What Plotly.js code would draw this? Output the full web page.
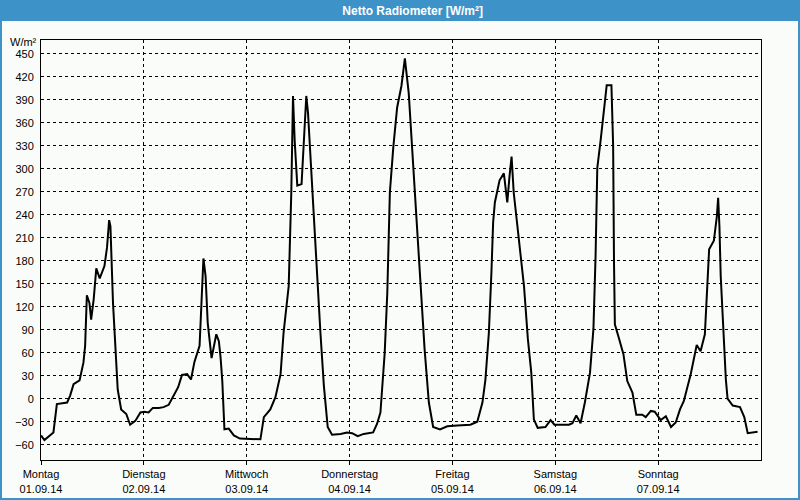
<!DOCTYPE html>
<html>
<head>
<meta charset="utf-8">
<script src="https://cdn.plot.ly/plotly-3.0.1.min.js"></script>
<style>
  html, body { margin: 0; padding: 0; background: #fafcfa; }
  #chart { width: 800px; height: 500px; }
</style>
</head>
<body>
<div id="chart"></div>
<script>
// Time in hours since Monday 01.09.14 00:00
const hours = [
  0.0, 0.8, 2.9, 3.7, 6.1, 6.8, 7.6, 9.0, 9.9, 10.3, 10.7, 11.3, 11.7, 12.3, 12.9, 13.7,
  14.8, 15.4, 15.9, 16.2, 16.8, 17.3, 17.9, 18.7, 19.9, 20.8, 22.0, 23.2, 24.1, 25.1,
  26.1, 27.5, 28.6, 29.8, 31.0, 32.0, 32.9, 34.1, 35.0, 35.8, 37.0, 37.6, 37.9, 38.4,
  38.9, 39.8, 40.9, 41.5, 41.9, 42.3, 42.8, 43.8, 45.0, 46.4,
  51.2, 52.0, 53.5, 54.7, 55.9, 56.6, 57.8, 58.4, 58.8, 59.2, 59.8, 60.8, 61.3, 61.9,
  62.3, 63.3, 64.4, 65.2, 66.0, 66.9, 67.9, 69.9, 71.4, 72.6, 73.9, 75.3, 77.5, 78.4,
  79.2, 80.2, 80.8, 81.4, 82.2, 83.1, 84.1, 84.9, 85.8, 86.6, 87.4, 88.6, 89.5, 90.5,
  91.5, 93.1,
  94.8, 97.1, 100.2, 101.8, 103.0, 103.7, 104.5, 105.1, 105.5, 105.9, 107.0, 108.0,
  108.8, 109.3, 109.8, 110.3, 111.5, 112.7, 113.6, 114.4, 115.0, 115.9, 117.7, 118.9,
  119.8, 123.2, 124.0, 124.9, 125.9, 126.9, 128.1, 128.9, 129.4, 129.8, 130.6,
  132.0, 133.1, 133.5, 133.7, 133.9, 134.9, 135.9, 136.8, 138.0, 138.9, 140.3, 141.1,
  142.3, 143.2, 144.6, 145.8, 147.0, 148.1, 149.1, 150.0, 151.6, 153.0, 153.9, 154.9,
  155.3, 155.9, 157.0, 157.7, 158.0, 158.3, 158.6, 159.1, 159.8, 160.2, 161.4, 163.1,
  164.1, 164.9, 166.1, 167.2
];
// Net radiation, W/m²
const netRadiation = [
  -48, -54, -44, -7, -5, 4, 19, 24, 47, 69, 135, 125, 103, 130, 170, 157,
  173, 197, 233, 225, 125, 69, 12, -14, -20, -34, -29, -18, -17, -18,
  -12, -12, -11, -8, 4, 15, 31, 32, 25, 48, 69, 152, 183, 160,
  99, 53, 84, 75, 54, 23, -40, -39, -48, -52,
  -53, -24, -14, 2, 32, 86, 147, 269, 395, 336, 278, 280, 330, 395,
  373, 269, 165, 86, 17, -37, -47, -46, -44, -45, -49, -46, -44, -33,
  -18, 60, 138, 269, 328, 380, 408, 444, 399, 325, 247, 147, 65, -5,
  -37, -40,
  -36, -35, -34, -30, -5, 25, 86, 165, 230, 256, 285, 294,
  256, 289, 316, 269, 204, 147, 78, 34, -27, -38, -37, -28,
  -34, -34, -32, -22, -32, -5, 34, 91, 186, 301, 338,
  409, 409, 330, 178, 97, 78, 58, 23, 8, -21, -21, -24,
  -16, -17, -28, -23, -37, -31, -14, -3, 32, 70, 62, 84,
  134, 195, 206, 238, 262, 225, 160, 95, 25, 0, -9, -11,
  -24, -45, -44, -43
];
const dayNames = ['Montag', 'Dienstag', 'Mittwoch', 'Donnerstag', 'Freitag', 'Samstag', 'Sonntag'];
const dayDates = ['01.09.14', '02.09.14', '03.09.14', '04.09.14', '05.09.14', '06.09.14', '07.09.14'];
const dayStarts = [0, 24, 48, 72, 96, 120, 144];
const chartTitle = 'Netto Radiometer [W/m²]';
const unitLabel = 'W/m²';

const W = 800, H = 500;
const M = { l: 41, r: 39, t: 40, b: 40 };
const pw = W - M.l - M.r, ph = H - M.t - M.b;
const px = v => (v - M.l) / pw;
const py = v => (H - M.b - v) / ph;
const blue = '#3d92c8';
const ink = '#000000';
const fontFam = '"Liberation Sans", Arial, sans-serif';

const trace = {
  type: 'scatter',
  mode: 'lines',
  x: hours,
  y: netRadiation,
  line: { color: ink, width: 2 },
  hoverinfo: 'x+y'
};

const layout = {
  width: W, height: H,
  margin: M,
  paper_bgcolor: '#fafcfa',
  plot_bgcolor: '#fafcfa',
  showlegend: false,
  font: { family: fontFam, size: 11, color: ink },
  title: {
    text: chartTitle,
    x: 413 / W, xanchor: 'center', xref: 'paper',
    y: 1 - 11 / H, yanchor: 'middle', yref: 'container',
    font: { family: fontFam, size: 12, color: '#ffffff', weight: 700 }
  },
  xaxis: {
    range: [0, 168],
    tickmode: 'array',
    tickvals: dayStarts,
    ticktext: dayNames.map((d, i) => d + '<br>' + dayDates[i]),
    ticks: 'outside', ticklen: 4, tickcolor: ink,
    showline: true, linecolor: ink, linewidth: 1, mirror: true,
    showgrid: true, gridcolor: ink, gridwidth: 1, griddash: '3px,3px',
    zeroline: false,
    tickfont: { family: fontFam, size: 11, color: ink }
  },
  yaxis: {
    range: [-80, 468],
    tick0: 0, dtick: 30,
    ticks: '', ticklabelstandoff: 4,
    showline: true, linecolor: ink, linewidth: 1, mirror: true,
    showgrid: true, gridcolor: ink, gridwidth: 1, griddash: '3px,3px',
    zeroline: false,
    tickfont: { family: fontFam, size: 11, color: ink }
  },
  shapes: [
    { type: 'rect', xref: 'paper', yref: 'paper', layer: 'below',
      x0: px(0), x1: px(W), y0: py(21), y1: py(0),
      fillcolor: blue, line: { width: 0 } },
    { type: 'rect', xref: 'paper', yref: 'paper', layer: 'below',
      x0: px(1), x1: px(W - 1), y0: py(H - 1), y1: py(1),
      fillcolor: 'rgba(0,0,0,0)', line: { color: blue, width: 2 } }
  ],
  annotations: [
    { xref: 'paper', yref: 'paper', x: px(38), y: py(42.5),
      xanchor: 'right', yanchor: 'middle', showarrow: false, borderpad: 0,
      text: unitLabel, font: { family: fontFam, size: 11, color: ink } }
  ]
};

Plotly.newPlot('chart', [trace], layout, { displayModeBar: false, staticPlot: true });
</script>
</body>
</html>
